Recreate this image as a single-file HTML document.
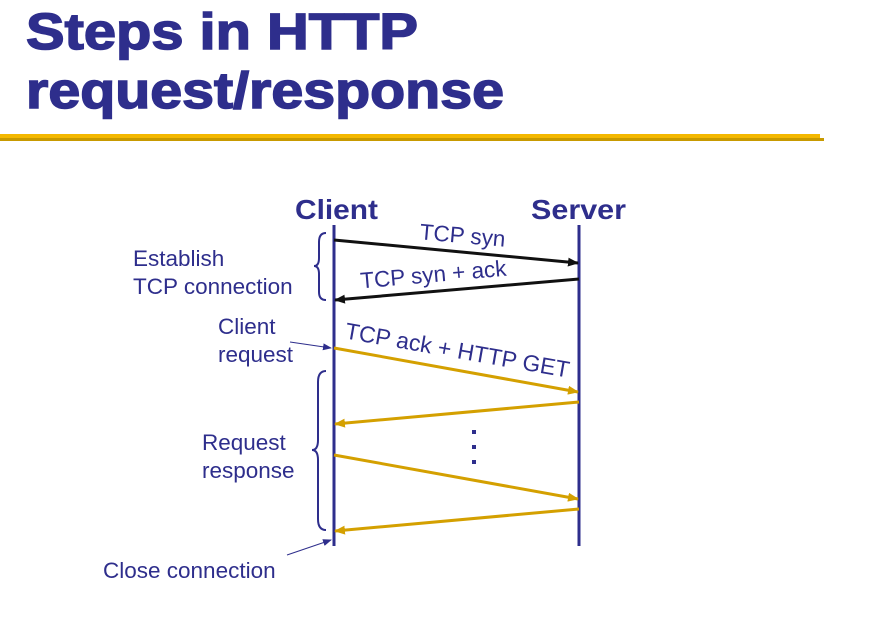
<!DOCTYPE html>
<html><head><style>body{margin:0;background:#fff}svg{display:block}</style></head><body>
<svg width="880" height="623" viewBox="0 0 880 623" xmlns="http://www.w3.org/2000/svg" font-family="Liberation Sans, sans-serif">
<defs>
<marker id="ab" markerWidth="11" markerHeight="9" refX="10" refY="4.5" orient="auto" markerUnits="userSpaceOnUse"><path d="M0,0 L11,4.5 L0,9 z" fill="#111"/></marker>
<marker id="ag" markerWidth="11" markerHeight="9" refX="10" refY="4.5" orient="auto" markerUnits="userSpaceOnUse"><path d="M0,0 L11,4.5 L0,9 z" fill="#d4a000"/></marker>
<marker id="an" markerWidth="9" markerHeight="7" refX="8" refY="3.5" orient="auto" markerUnits="userSpaceOnUse"><path d="M0,0 L9,3.5 L0,7 z" fill="#2e2e8c"/></marker>
</defs>
<g fill="#2e2e8c" stroke="#2e2e8c" stroke-width="1.5" font-weight="bold">
<text x="26" y="49" font-size="51" textLength="392" lengthAdjust="spacingAndGlyphs">Steps in HTTP</text>
<text x="26" y="108" font-size="51" textLength="478" lengthAdjust="spacingAndGlyphs">request/response</text>
</g>
<rect x="0" y="134" width="820" height="5" fill="#f4b800"/>
<rect x="0" y="138" width="824" height="3" fill="#c89a00"/>
<g fill="#2e2e8c" font-weight="bold" font-size="28">
<text x="295" y="219" textLength="83" lengthAdjust="spacingAndGlyphs">Client</text>
<text x="531" y="219" textLength="95" lengthAdjust="spacingAndGlyphs">Server</text>
</g>
<g stroke="#2e2e8c" stroke-width="3">
<line x1="334" y1="225" x2="334" y2="546"/>
<line x1="579" y1="225" x2="579" y2="546"/>
</g>
<g stroke="#111" stroke-width="3">
<line x1="334" y1="240" x2="578" y2="263" marker-end="url(#ab)"/>
<line x1="579" y1="279" x2="335" y2="300" marker-end="url(#ab)"/>
</g>
<g stroke="#d4a000" stroke-width="3">
<line x1="334" y1="348" x2="578" y2="392" marker-end="url(#ag)"/>
<line x1="579" y1="402" x2="335" y2="424" marker-end="url(#ag)"/>
<line x1="334" y1="455" x2="578" y2="499" marker-end="url(#ag)"/>
<line x1="579" y1="509" x2="335" y2="531" marker-end="url(#ag)"/>
</g>
<g fill="#2e2e8c" font-size="22.5">
<text x="462" y="243" text-anchor="middle" transform="rotate(5 462 243)">TCP syn</text>
<text x="434" y="282" text-anchor="middle" transform="rotate(-5 434 282)">TCP syn + ack</text>
<text x="456" y="358" text-anchor="middle" font-size="23" transform="rotate(10 456 358)">TCP ack + HTTP GET</text>
<text x="133" y="266">Establish</text>
<text x="133" y="294">TCP connection</text>
<text x="218" y="334">Client</text>
<text x="218" y="362">request</text>
<text x="202" y="450">Request</text>
<text x="202" y="478">response</text>
<text x="103" y="578">Close connection</text>
</g>
<g fill="none" stroke="#2e2e8c" stroke-width="2">
<path d="M326,233 Q319,233 319,242 L319,258 Q319,266 314,266 Q319,266 319,274 L319,292 Q319,300 326,300"/>
<path d="M326,371 Q318,371 318,382 L318,440 Q318,450 312,450 Q318,450 318,460 L318,519 Q318,530 326,530"/>
</g>
<g stroke="#2e2e8c" stroke-width="1">
<line x1="290" y1="342" x2="331" y2="348" marker-end="url(#an)"/>
<line x1="287" y1="555" x2="331" y2="540" marker-end="url(#an)"/>
</g>
<g fill="#2e2e8c">
<rect x="472" y="430" width="4" height="4"/>
<rect x="472" y="445" width="4" height="4"/>
<rect x="472" y="460" width="4" height="4"/>
</g>
</svg>
</body></html>
